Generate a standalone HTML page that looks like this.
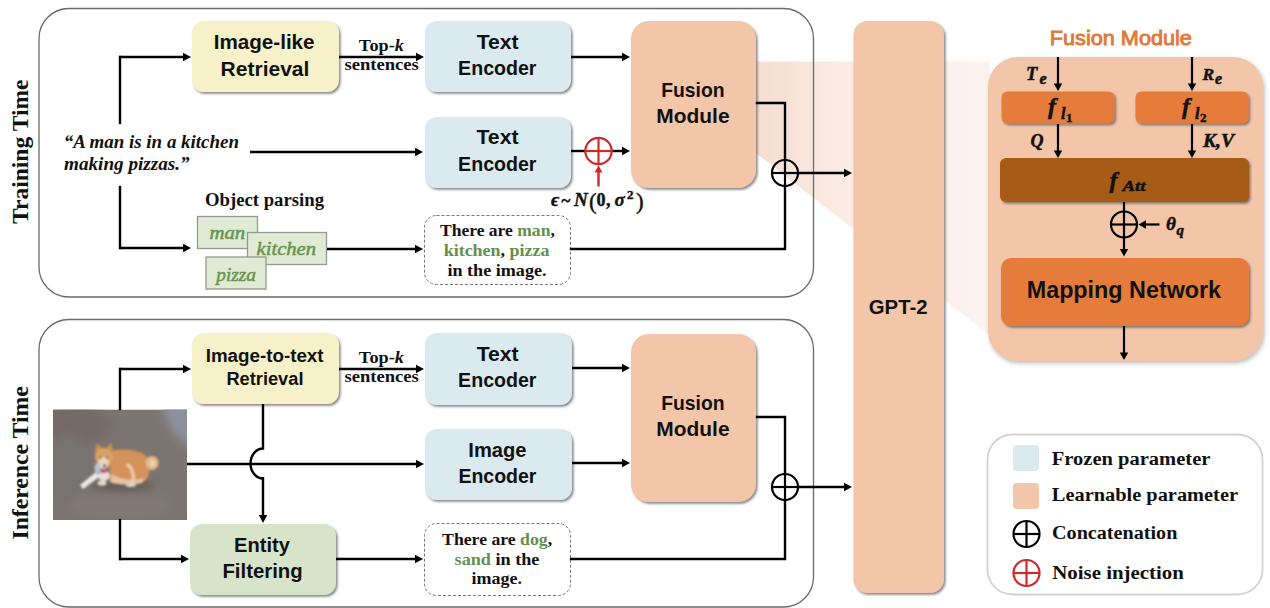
<!DOCTYPE html>
<html><head><meta charset="utf-8"><style>
html,body{margin:0;padding:0;background:#fff;width:1270px;height:608px;overflow:hidden}
svg{display:block}
</style></head><body>
<svg width="1270" height="608" viewBox="0 0 1270 608">
<defs>
<filter id="sh" x="-20%" y="-20%" width="140%" height="140%"><feDropShadow dx="1.6" dy="1.8" stdDeviation="1.1" flood-color="#555" flood-opacity="0.7"/></filter>
<filter id="sh2" x="-20%" y="-20%" width="140%" height="140%"><feDropShadow dx="1.5" dy="2.2" stdDeviation="2" flood-color="#777" flood-opacity="0.5"/></filter>
<filter id="blur1" x="-10%" y="-10%" width="120%" height="120%"><feGaussianBlur stdDeviation="0.9"/></filter>
<filter id="blur3" x="-50%" y="-50%" width="200%" height="200%"><feGaussianBlur stdDeviation="4"/></filter>
<linearGradient id="trap" x1="757" y1="0" x2="988" y2="0" gradientUnits="userSpaceOnUse"><stop offset="0" stop-color="#f6ddd0"/><stop offset="0.3" stop-color="#f9e9e1"/><stop offset="1" stop-color="#fcf3ef"/></linearGradient>
<clipPath id="imgclip"><rect x="53" y="409.5" width="134" height="110.5"/></clipPath>
</defs>
<polygon points="745,61.5 990,61.5 990,335.5 745,144.6" fill="url(#trap)"/>
<rect x="39" y="8.5" width="774.5" height="288.5" rx="30" fill="none" stroke="#6a6a6a" stroke-width="1.3"/>
<rect x="39" y="319.5" width="774.5" height="287.5" rx="30" fill="none" stroke="#6a6a6a" stroke-width="1.3"/>
<text x="27.74" y="152" font-family='"Liberation Serif", serif' font-size="22.5" font-weight="bold" font-style="normal" text-anchor="middle" fill="#111" textLength="144.49" lengthAdjust="spacingAndGlyphs" transform="rotate(-90 27.5 152)">Training Time</text>
<text x="27.59" y="463" font-family='"Liberation Serif", serif' font-size="22.5" font-weight="bold" font-style="normal" text-anchor="middle" fill="#111" textLength="153.22" lengthAdjust="spacingAndGlyphs" transform="rotate(-90 27.5 463)">Inference Time</text>
<rect x="192" y="21" width="147" height="71" rx="12" fill="#f6f1c8" filter="url(#sh)"/>
<text x="264.12" y="49" font-family='"Liberation Sans", sans-serif' font-size="21" font-weight="bold" font-style="normal" text-anchor="middle" fill="#111" textLength="100.91" lengthAdjust="spacingAndGlyphs" >Image-like</text>
<text x="265.0" y="75.5" font-family='"Liberation Sans", sans-serif' font-size="21" font-weight="bold" font-style="normal" text-anchor="middle" fill="#111" textLength="88.8" lengthAdjust="spacingAndGlyphs" >Retrieval</text>
<rect x="425" y="21" width="146" height="71" rx="12" fill="#dbeaee" filter="url(#sh)"/>
<text x="497.65" y="48.5" font-family='"Liberation Sans", sans-serif' font-size="21" font-weight="bold" font-style="normal" text-anchor="middle" fill="#111" textLength="42.0" lengthAdjust="spacingAndGlyphs" >Text</text>
<text x="497.3" y="75" font-family='"Liberation Sans", sans-serif' font-size="21" font-weight="bold" font-style="normal" text-anchor="middle" fill="#111" textLength="78.4" lengthAdjust="spacingAndGlyphs" >Encoder</text>
<rect x="631" y="21" width="125" height="167" rx="18" fill="#f3c5a9" filter="url(#sh)"/>
<text x="692.94" y="97" font-family='"Liberation Sans", sans-serif' font-size="21" font-weight="bold" font-style="normal" text-anchor="middle" fill="#111" textLength="63.4" lengthAdjust="spacingAndGlyphs" >Fusion</text>
<text x="692.94" y="122.5" font-family='"Liberation Sans", sans-serif' font-size="21" font-weight="bold" font-style="normal" text-anchor="middle" fill="#111" textLength="73.24" lengthAdjust="spacingAndGlyphs" >Module</text>
<rect x="425" y="117" width="146" height="71" rx="12" fill="#dbeaee" filter="url(#sh)"/>
<text x="497.48" y="143.8" font-family='"Liberation Sans", sans-serif' font-size="21" font-weight="bold" font-style="normal" text-anchor="middle" fill="#111" textLength="42.07" lengthAdjust="spacingAndGlyphs" >Text</text>
<text x="497.3" y="170.5" font-family='"Liberation Sans", sans-serif' font-size="21" font-weight="bold" font-style="normal" text-anchor="middle" fill="#111" textLength="78.4" lengthAdjust="spacingAndGlyphs" >Encoder</text>
<rect x="424.5" y="215.5" width="146" height="69" rx="12" fill="#fff" stroke="#777" stroke-width="1" stroke-dasharray="3,2"/>
<text x="497.4" y="235.5" font-family='"Liberation Serif", serif' font-size="17" font-weight="bold" font-style="normal" text-anchor="middle" fill="#111" textLength="114.77" lengthAdjust="spacingAndGlyphs" >There are <tspan fill="#64904d">man</tspan>,</text>
<text x="496.59" y="255.5" font-family='"Liberation Serif", serif' font-size="17" font-weight="bold" font-style="normal" text-anchor="middle" fill="#111" textLength="105.82" lengthAdjust="spacingAndGlyphs" ><tspan fill="#64904d">kitchen</tspan>, <tspan fill="#64904d">pizza</tspan></text>
<text x="496.98" y="275.5" font-family='"Liberation Serif", serif' font-size="17" font-weight="bold" font-style="normal" text-anchor="middle" fill="#111" textLength="99.05" lengthAdjust="spacingAndGlyphs" >in the image.</text>
<text x="63.69" y="148" font-family='"Liberation Serif", serif' font-size="18.9" font-weight="bold" font-style="italic" text-anchor="start" fill="#111" textLength="175.33" lengthAdjust="spacingAndGlyphs" >“A man is in a kitchen</text>
<text x="64.07" y="169.5" font-family='"Liberation Serif", serif' font-size="18.9" font-weight="bold" font-style="italic" text-anchor="start" fill="#111" textLength="125.54" lengthAdjust="spacingAndGlyphs" >making pizzas.”</text>
<text x="264.51" y="206" font-family='"Liberation Serif", serif' font-size="18" font-weight="bold" font-style="normal" text-anchor="middle" fill="#111" textLength="118.98" lengthAdjust="spacingAndGlyphs" >Object parsing</text>
<rect x="197.5" y="216.5" width="60" height="32" fill="#e0ebd5" stroke="#939a92" stroke-width="1.3"/>
<text x="227.32" y="239.0" font-family='"Liberation Serif", serif' font-size="19" font-weight="normal" font-style="italic" text-anchor="middle" fill="#6a9553" textLength="35.75" lengthAdjust="spacingAndGlyphs" stroke="#6a9553" stroke-width="0.55">man</text>
<rect x="247.5" y="232.5" width="79" height="32" fill="#e0ebd5" stroke="#939a92" stroke-width="1.3"/>
<text x="286.3" y="254.5" font-family='"Liberation Serif", serif' font-size="19" font-weight="normal" font-style="italic" text-anchor="middle" fill="#6a9553" textLength="59.54" lengthAdjust="spacingAndGlyphs" stroke="#6a9553" stroke-width="0.55">kitchen</text>
<rect x="206" y="257" width="60" height="32" fill="#e0ebd5" stroke="#939a92" stroke-width="1.3"/>
<text x="236.18" y="280.5" font-family='"Liberation Serif", serif' font-size="19" font-weight="normal" font-style="italic" text-anchor="middle" fill="#6a9553" textLength="39.65" lengthAdjust="spacingAndGlyphs" stroke="#6a9553" stroke-width="0.55">pizza</text>
<path d="M120,123 L120,57" fill="none" stroke="#000" stroke-width="2.4" stroke-linejoin="miter" stroke-linecap="square"/>
<line x1="119" y1="57" x2="184.00" y2="57.00" stroke="#000" stroke-width="2.4"/>
<polygon points="191.00,57.00 183.00,61.20 183.00,52.80" fill="#000"/>
<path d="M120,187 L120,248" fill="none" stroke="#000" stroke-width="2.4" stroke-linejoin="miter" stroke-linecap="square"/>
<line x1="119" y1="248" x2="184.00" y2="248.00" stroke="#000" stroke-width="2.4"/>
<polygon points="191.00,248.00 183.00,252.20 183.00,243.80" fill="#000"/>
<line x1="250" y1="152" x2="416.00" y2="152.00" stroke="#000" stroke-width="2.4"/>
<polygon points="423.00,152.00 415.00,156.20 415.00,147.80" fill="#000"/>
<line x1="339" y1="57" x2="417.00" y2="57.00" stroke="#000" stroke-width="2.4"/>
<polygon points="424.00,57.00 416.00,61.20 416.00,52.80" fill="#000"/>
<text x="381.4" y="51" font-family='"Liberation Serif", serif' font-size="17" font-weight="bold" font-style="normal" text-anchor="middle" fill="#111" textLength="45.03" lengthAdjust="spacingAndGlyphs" >Top-<tspan font-style="italic">k</tspan></text>
<text x="381.68" y="70" font-family='"Liberation Serif", serif' font-size="17" font-weight="bold" font-style="normal" text-anchor="middle" fill="#111" textLength="74.35" lengthAdjust="spacingAndGlyphs" >sentences</text>
<line x1="571" y1="57" x2="623.00" y2="57.00" stroke="#000" stroke-width="2.4"/>
<polygon points="630.00,57.00 622.00,61.20 622.00,52.80" fill="#000"/>
<line x1="571" y1="151" x2="585" y2="151" stroke="#000" stroke-width="2.4"/>
<line x1="612" y1="151" x2="623.00" y2="151.00" stroke="#000" stroke-width="2.4"/>
<polygon points="630.00,151.00 622.00,155.20 622.00,146.80" fill="#000"/>
<circle cx="598.5" cy="151" r="13.2" fill="none" stroke="#cc2b2b" stroke-width="2.2"/>
<line x1="585.3" y1="151" x2="611.7" y2="151" stroke="#cc2b2b" stroke-width="2.2"/>
<line x1="598.5" y1="137.8" x2="598.5" y2="164.2" stroke="#cc2b2b" stroke-width="2.2"/>
<line x1="598.5" y1="186.5" x2="598.50" y2="171.50" stroke="#cc2b2b" stroke-width="2.4"/>
<polygon points="598.50,165.50 602.50,172.50 594.50,172.50" fill="#cc2b2b"/>
<g font-family='"Liberation Serif", serif' font-weight="bold" fill="#111" stroke="#111" stroke-width="0.4">
<text x="551" y="206" font-size="19" font-style="italic">ϵ</text>
<text x="561.5" y="206" font-size="17">~</text>
<text x="574" y="206" font-size="19" font-style="italic">N</text>
<text x="589" y="209" font-size="23" font-weight="normal">(</text>
<text x="596.5" y="206" font-size="18">0</text>
<text x="606" y="206" font-size="18">,</text>
<text x="614.5" y="206" font-size="19" font-style="italic">σ</text>
<text x="627" y="199" font-size="13">2</text>
<text x="636" y="209" font-size="23" font-weight="normal">)</text>
</g>
<line x1="327" y1="249" x2="416.00" y2="249.00" stroke="#000" stroke-width="2.4"/>
<polygon points="423.00,249.00 415.00,253.20 415.00,244.80" fill="#000"/>
<path d="M571,249 L785,249 L785,186" fill="none" stroke="#000" stroke-width="2.4" stroke-linejoin="miter" stroke-linecap="square"/>
<path d="M757,103 L785,103 L785,160" fill="none" stroke="#000" stroke-width="2.4" stroke-linejoin="miter" stroke-linecap="square"/>
<circle cx="785" cy="173" r="13" fill="none" stroke="#000" stroke-width="2.2"/>
<line x1="772" y1="173" x2="798" y2="173" stroke="#000" stroke-width="2.2"/>
<line x1="785" y1="160" x2="785" y2="186" stroke="#000" stroke-width="2.2"/>
<line x1="798" y1="173" x2="845.00" y2="173.00" stroke="#000" stroke-width="2.4"/>
<polygon points="852.00,173.00 844.00,177.20 844.00,168.80" fill="#000"/>
<rect x="192" y="333" width="147" height="71" rx="12" fill="#f6f1c8" filter="url(#sh)"/>
<text x="264.62" y="362" font-family='"Liberation Sans", sans-serif' font-size="17.5" font-weight="bold" font-style="normal" text-anchor="middle" fill="#111" textLength="117.77" lengthAdjust="spacingAndGlyphs" >Image-to-text</text>
<text x="264.96" y="385" font-family='"Liberation Sans", sans-serif' font-size="17.5" font-weight="bold" font-style="normal" text-anchor="middle" fill="#111" textLength="77.03" lengthAdjust="spacingAndGlyphs" >Retrieval</text>
<rect x="425" y="333" width="147" height="72" rx="12" fill="#dbeaee" filter="url(#sh)"/>
<text x="497.65" y="361" font-family='"Liberation Sans", sans-serif' font-size="21" font-weight="bold" font-style="normal" text-anchor="middle" fill="#111" textLength="42.0" lengthAdjust="spacingAndGlyphs" >Text</text>
<text x="497.3" y="387" font-family='"Liberation Sans", sans-serif' font-size="21" font-weight="bold" font-style="normal" text-anchor="middle" fill="#111" textLength="78.4" lengthAdjust="spacingAndGlyphs" >Encoder</text>
<rect x="425" y="429" width="147" height="71" rx="12" fill="#dbeaee" filter="url(#sh)"/>
<text x="497.4" y="457" font-family='"Liberation Sans", sans-serif' font-size="21" font-weight="bold" font-style="normal" text-anchor="middle" fill="#111" textLength="58.19" lengthAdjust="spacingAndGlyphs" >Image</text>
<text x="497.4" y="483" font-family='"Liberation Sans", sans-serif' font-size="21" font-weight="bold" font-style="normal" text-anchor="middle" fill="#111" textLength="78.05" lengthAdjust="spacingAndGlyphs" >Encoder</text>
<rect x="631" y="334" width="125" height="168" rx="18" fill="#f3c5a9" filter="url(#sh)"/>
<text x="692.94" y="410" font-family='"Liberation Sans", sans-serif' font-size="21" font-weight="bold" font-style="normal" text-anchor="middle" fill="#111" textLength="63.4" lengthAdjust="spacingAndGlyphs" >Fusion</text>
<text x="692.94" y="436" font-family='"Liberation Sans", sans-serif' font-size="21" font-weight="bold" font-style="normal" text-anchor="middle" fill="#111" textLength="73.24" lengthAdjust="spacingAndGlyphs" >Module</text>
<rect x="190" y="524" width="146" height="71" rx="12" fill="#d8e4ca" filter="url(#sh)"/>
<text x="261.98" y="552" font-family='"Liberation Sans", sans-serif' font-size="21" font-weight="bold" font-style="normal" text-anchor="middle" fill="#111" textLength="55.91" lengthAdjust="spacingAndGlyphs" >Entity</text>
<text x="262.6" y="578" font-family='"Liberation Sans", sans-serif' font-size="21" font-weight="bold" font-style="normal" text-anchor="middle" fill="#111" textLength="80.31" lengthAdjust="spacingAndGlyphs" >Filtering</text>
<rect x="424.5" y="523.5" width="146" height="72" rx="12" fill="#fff" stroke="#777" stroke-width="1" stroke-dasharray="3,2"/>
<text x="497.11" y="545" font-family='"Liberation Serif", serif' font-size="17" font-weight="bold" font-style="normal" text-anchor="middle" fill="#111" textLength="110.07" lengthAdjust="spacingAndGlyphs" >There are <tspan fill="#64904d">dog</tspan>,</text>
<text x="497.01" y="564.5" font-family='"Liberation Serif", serif' font-size="17" font-weight="bold" font-style="normal" text-anchor="middle" fill="#111" textLength="84.84" lengthAdjust="spacingAndGlyphs" ><tspan fill="#64904d">sand</tspan> in the</text>
<text x="496.83" y="584" font-family='"Liberation Serif", serif' font-size="17" font-weight="bold" font-style="normal" text-anchor="middle" fill="#111" textLength="50.49" lengthAdjust="spacingAndGlyphs" >image.</text>
<g clip-path="url(#imgclip)">
<rect x="53" y="409.5" width="134" height="110.5" fill="#7c7470"/>
<g filter="url(#blur3)">
<polygon points="158,400 195,400 195,452 172,432" fill="#8b919b"/>
<ellipse cx="75" cy="425" rx="35" ry="20" fill="#746b67"/>
<ellipse cx="70" cy="470" rx="25" ry="35" fill="#77736f"/>
<ellipse cx="120" cy="505" rx="50" ry="15" fill="#817873"/>
<ellipse cx="122" cy="486" rx="32" ry="5" fill="#5c5450"/>
</g>
<g filter="url(#blur1)">
<path d="M109,452 C118,448 136,449 145,455 C151,460 151,474 146,480 C140,485 120,485 110,482 Z" fill="#d4915a"/>
<path d="M112,474 C120,480 134,481 144,478 L142,483 C130,486 118,485 110,482 Z" fill="#e3c3a0"/>
<ellipse cx="152" cy="463" rx="6.5" ry="7" fill="#e2b987"/>
<ellipse cx="152.5" cy="463.5" rx="3" ry="3.5" fill="#ead0ae"/>
<path d="M127,464 C133,469 135,477 132,484" stroke="#e9cfae" stroke-width="3" fill="none"/>
<ellipse cx="131" cy="485" rx="5" ry="2" fill="#e2d3c0"/>
<polygon points="94.5,453 96.5,443.5 103.5,449" fill="#cf8c50"/>
<polygon points="105.5,449 111.5,443 113.5,453" fill="#cf8c50"/>
<ellipse cx="104" cy="457" rx="9" ry="9" fill="#d9a068"/>
<ellipse cx="103.5" cy="463" rx="5.5" ry="6" fill="#e9d5bb"/>
<circle cx="100.5" cy="457.5" r="1" fill="#4a3428"/><circle cx="107" cy="457.5" r="1" fill="#4a3428"/>
<ellipse cx="104" cy="476" rx="6" ry="5" fill="#e8e0d8"/>
<polygon points="83,489 80,485 96,472 100,476.5" fill="#ebe6e2"/>
<ellipse cx="102" cy="483" rx="4.5" ry="2.6" fill="#e6ddd3"/>
<ellipse cx="97.5" cy="468" rx="3" ry="5" fill="#b3c6d4"/>
<ellipse cx="103.5" cy="471" rx="3" ry="2.2" fill="#c8466c"/>
<circle cx="104.5" cy="466" r="1.4" fill="#302424"/>
</g></g>
<path d="M120,409 L120,369" fill="none" stroke="#000" stroke-width="2.4" stroke-linejoin="miter" stroke-linecap="square"/>
<line x1="119" y1="369" x2="184.00" y2="369.00" stroke="#000" stroke-width="2.4"/>
<polygon points="191.00,369.00 183.00,373.20 183.00,364.80" fill="#000"/>
<path d="M120,520 L120,559" fill="none" stroke="#000" stroke-width="2.4" stroke-linejoin="miter" stroke-linecap="square"/>
<line x1="119" y1="559" x2="182.00" y2="559.00" stroke="#000" stroke-width="2.4"/>
<polygon points="189.00,559.00 181.00,563.20 181.00,554.80" fill="#000"/>
<line x1="336" y1="559" x2="416.00" y2="559.00" stroke="#000" stroke-width="2.4"/>
<polygon points="423.00,559.00 415.00,563.20 415.00,554.80" fill="#000"/>
<line x1="249" y1="464" x2="417.00" y2="464.00" stroke="#000" stroke-width="2.4"/>
<polygon points="424.00,464.00 416.00,468.20 416.00,459.80" fill="#000"/>
<line x1="187" y1="464" x2="249" y2="464" stroke="#000" stroke-width="2.4"/>
<path d="M263,404 V448.5 A12.5,15 0 0 0 263,478.5" fill="none" stroke="#000" stroke-width="2.4"/>
<line x1="263" y1="477" x2="263.00" y2="516.00" stroke="#000" stroke-width="2.4"/>
<polygon points="263.00,523.00 258.80,515.00 267.20,515.00" fill="#000"/>
<line x1="339" y1="369" x2="417.00" y2="369.00" stroke="#000" stroke-width="2.4"/>
<polygon points="424.00,369.00 416.00,373.20 416.00,364.80" fill="#000"/>
<text x="381.4" y="363" font-family='"Liberation Serif", serif' font-size="17" font-weight="bold" font-style="normal" text-anchor="middle" fill="#111" textLength="45.03" lengthAdjust="spacingAndGlyphs" >Top-<tspan font-style="italic">k</tspan></text>
<text x="381.68" y="382" font-family='"Liberation Serif", serif' font-size="17" font-weight="bold" font-style="normal" text-anchor="middle" fill="#111" textLength="74.35" lengthAdjust="spacingAndGlyphs" >sentences</text>
<line x1="572" y1="368" x2="623.00" y2="368.00" stroke="#000" stroke-width="2.4"/>
<polygon points="630.00,368.00 622.00,372.20 622.00,363.80" fill="#000"/>
<line x1="572" y1="463" x2="623.00" y2="463.00" stroke="#000" stroke-width="2.4"/>
<polygon points="630.00,463.00 622.00,467.20 622.00,458.80" fill="#000"/>
<path d="M571,559 L785,559 L785,500" fill="none" stroke="#000" stroke-width="2.4" stroke-linejoin="miter" stroke-linecap="square"/>
<path d="M757,417 L785,417 L785,474" fill="none" stroke="#000" stroke-width="2.4" stroke-linejoin="miter" stroke-linecap="square"/>
<circle cx="785" cy="487" r="13" fill="none" stroke="#000" stroke-width="2.2"/>
<line x1="772" y1="487" x2="798" y2="487" stroke="#000" stroke-width="2.2"/>
<line x1="785" y1="474" x2="785" y2="500" stroke="#000" stroke-width="2.2"/>
<line x1="798" y1="487" x2="845.00" y2="487.00" stroke="#000" stroke-width="2.4"/>
<polygon points="852.00,487.00 844.00,491.20 844.00,482.80" fill="#000"/>
<rect x="853.5" y="21" width="90.5" height="572" rx="14" fill="#f3c5a9" filter="url(#sh)"/>
<text x="898.16" y="314" font-family='"Liberation Sans", sans-serif' font-size="21" font-weight="bold" font-style="normal" text-anchor="middle" fill="#111" textLength="58.7" lengthAdjust="spacingAndGlyphs" >GPT-2</text>
<text x="1120.85" y="45" font-family='"Liberation Sans", sans-serif' font-size="20" font-weight="normal" font-style="normal" text-anchor="middle" fill="#e07a3a" textLength="142.12" lengthAdjust="spacingAndGlyphs" stroke="#e07a3a" stroke-width="0.9">Fusion Module</text>
<rect x="988" y="57" width="275" height="304" rx="30" fill="#f3c5a9" filter="url(#sh2)"/>
<rect x="1001.5" y="91.5" width="113" height="32" rx="6" fill="#e67b3b" filter="url(#sh)"/>
<rect x="1135.5" y="91.5" width="113" height="32" rx="6" fill="#e67b3b" filter="url(#sh)"/>
<rect x="1000" y="158" width="249" height="44" rx="6" fill="#a65b19" filter="url(#sh)"/>
<rect x="1001" y="258" width="248" height="68" rx="10" fill="#e67b3b" filter="url(#sh)"/>
<line x1="1058" y1="57" x2="1058.00" y2="84.50" stroke="#000" stroke-width="2.2"/>
<polygon points="1058.00,91.00 1053.80,83.50 1062.20,83.50" fill="#000"/>
<line x1="1192" y1="57" x2="1192.00" y2="84.50" stroke="#000" stroke-width="2.2"/>
<polygon points="1192.00,91.00 1187.80,83.50 1196.20,83.50" fill="#000"/>
<line x1="1058" y1="124" x2="1058.00" y2="151.50" stroke="#000" stroke-width="2.2"/>
<polygon points="1058.00,158.00 1053.80,150.50 1062.20,150.50" fill="#000"/>
<line x1="1192" y1="124" x2="1192.00" y2="151.50" stroke="#000" stroke-width="2.2"/>
<polygon points="1192.00,158.00 1187.80,150.50 1196.20,150.50" fill="#000"/>
<g font-family='"Liberation Serif", serif' font-weight="bold" font-style="italic" fill="#111" stroke="#111" stroke-width="0.5">
<text x="1026" y="79.5" font-size="18.5">T</text><text x="1039.5" y="83.5" font-size="16">e</text>
<text x="1202.5" y="79.5" font-size="17.5">R</text><text x="1215" y="83.5" font-size="16">e</text>
<text x="1030.5" y="146.5" font-size="18">Q</text>
<text x="1203" y="147" font-size="18" textLength="31" lengthAdjust="spacingAndGlyphs">K,V</text>
<text x="1048" y="114" font-size="24">f</text><text x="1061" y="119" font-size="16">l</text><text x="1066" y="121.5" font-size="13" font-style="normal">1</text>
<text x="1182" y="114" font-size="24">f</text><text x="1195" y="119" font-size="16">l</text><text x="1200" y="121.5" font-size="13" font-style="normal">2</text>
<text x="1109.5" y="187.5" font-size="24">f</text><text x="1122.5" y="191" font-size="15.5" textLength="23" lengthAdjust="spacingAndGlyphs">Att</text>
<text x="1166" y="230" font-size="19">θ</text><text x="1176.5" y="234.5" font-size="15">q</text>
</g>
<line x1="1124" y1="202" x2="1124" y2="212" stroke="#000" stroke-width="2.2"/>
<circle cx="1124" cy="224.5" r="13" fill="none" stroke="#000" stroke-width="2.2"/>
<line x1="1111" y1="224.5" x2="1137" y2="224.5" stroke="#000" stroke-width="2.2"/>
<line x1="1124" y1="211.5" x2="1124" y2="237.5" stroke="#000" stroke-width="2.2"/>
<line x1="1124" y1="237" x2="1124.00" y2="250.00" stroke="#000" stroke-width="2.2"/>
<polygon points="1124.00,256.50 1119.80,249.00 1128.20,249.00" fill="#000"/>
<line x1="1159.5" y1="224.5" x2="1145.00" y2="224.50" stroke="#000" stroke-width="2.2"/>
<polygon points="1138.50,224.50 1146.00,220.30 1146.00,228.70" fill="#000"/>
<text x="1123.91" y="298" font-family='"Liberation Sans", sans-serif' font-size="23.3" font-weight="bold" font-style="normal" text-anchor="middle" fill="#111" textLength="194.35" lengthAdjust="spacingAndGlyphs" >Mapping Network</text>
<line x1="1124" y1="326" x2="1124.00" y2="353.50" stroke="#000" stroke-width="2.2"/>
<polygon points="1124.00,360.00 1119.80,352.50 1128.20,352.50" fill="#000"/>
<rect x="987.5" y="434.5" width="275" height="160" rx="25" fill="#fff" stroke="#d2d2d2" stroke-width="1.8"/>
<rect x="1013" y="445" width="26" height="26" rx="4" fill="#dbeaee"/>
<rect x="1013" y="483" width="26" height="26" rx="4" fill="#f3c5a9"/>
<circle cx="1026.5" cy="534" r="13" fill="none" stroke="#000" stroke-width="2.2"/>
<line x1="1013.5" y1="534" x2="1039.5" y2="534" stroke="#000" stroke-width="2.2"/>
<line x1="1026.5" y1="521" x2="1026.5" y2="547" stroke="#000" stroke-width="2.2"/>
<circle cx="1026.5" cy="573" r="13" fill="none" stroke="#cc2b2b" stroke-width="2.2"/>
<line x1="1013.5" y1="573" x2="1039.5" y2="573" stroke="#cc2b2b" stroke-width="2.2"/>
<line x1="1026.5" y1="560" x2="1026.5" y2="586" stroke="#cc2b2b" stroke-width="2.2"/>
<text x="1051.72" y="465" font-family='"Liberation Serif", serif' font-size="18.6" font-weight="bold" font-style="normal" text-anchor="start" fill="#111" textLength="158.68" lengthAdjust="spacingAndGlyphs" >Frozen parameter</text>
<text x="1051.86" y="501" font-family='"Liberation Serif", serif' font-size="18.6" font-weight="bold" font-style="normal" text-anchor="start" fill="#111" textLength="186.12" lengthAdjust="spacingAndGlyphs" >Learnable parameter</text>
<text x="1052.0" y="539" font-family='"Liberation Serif", serif' font-size="18.6" font-weight="bold" font-style="normal" text-anchor="start" fill="#111" textLength="125.4" lengthAdjust="spacingAndGlyphs" >Concatenation</text>
<text x="1052.18" y="579" font-family='"Liberation Serif", serif' font-size="18.6" font-weight="bold" font-style="normal" text-anchor="start" fill="#111" textLength="131.75" lengthAdjust="spacingAndGlyphs" >Noise injection</text>
</svg>
</body></html>
